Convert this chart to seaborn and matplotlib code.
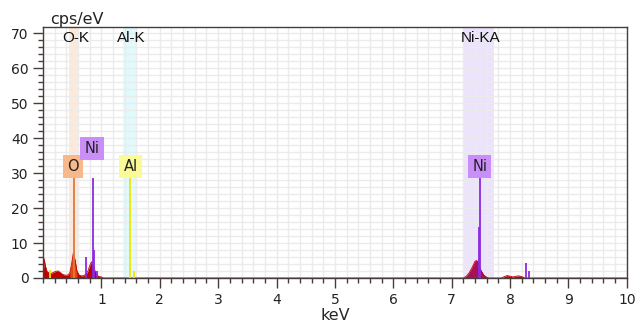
import matplotlib
matplotlib.use("Agg")
import matplotlib.pyplot as plt
import numpy as np
import pandas as pd
import seaborn as sns
from matplotlib.ticker import MultipleLocator

# Spectrum (keV, cps/eV)
spec_kev = [0.0, 0.02, 0.04, 0.07, 0.10, 0.14, 0.18, 0.22, 0.26, 0.30, 0.34, 0.38,
            0.42, 0.46, 0.49, 0.52, 0.55, 0.58, 0.62, 0.66, 0.70, 0.74, 0.77, 0.80,
            0.83, 0.86, 0.89, 0.92, 0.96, 1.00, 1.03, 7.20, 7.25, 7.30, 7.35, 7.40,
            7.43, 7.46, 7.50, 7.55, 7.60, 7.63, 7.85, 7.90, 7.95, 8.00, 8.05, 8.10,
            8.15, 8.20, 8.25, 10.0]
spec_cps = [0.0, 5.5, 3.5, 1.8, 1.5, 1.3, 1.6, 1.9, 2.0, 1.5, 1.0, 0.8,
            0.8, 1.5, 4.0, 7.2, 5.0, 2.0, 0.8, 0.6, 0.7, 1.2, 2.0, 3.5,
            4.6, 3.8, 2.0, 0.8, 0.4, 0.3, 0.0, 0.0, 0.5, 1.5, 3.0, 4.8,
            5.0, 4.0, 2.2, 0.8, 0.2, 0.0, 0.0, 0.4, 0.7, 0.5, 0.3, 0.5,
            0.6, 0.4, 0.0, 0.0]

# Element marker lines
o_kev, o_h = [0.525], [28.5]
ni_kev = [0.743, 0.851, 0.866, 0.930, 7.461, 7.478, 8.265, 8.330]
ni_h = [6.0, 28.5, 8.0, 2.1, 14.7, 28.5, 4.2, 2.1]
al_kev, al_h = [0.12, 1.486, 1.557], [2.3, 28.5, 2.1]

# Shaded regions of interest
bands = ["O-K", "Al-K", "Ni-KA"]
band_lo = [0.45, 1.37, 7.20]
band_hi = [0.60, 1.60, 7.72]
band_colors = ["#fde9dc", "#e0fafd", "#ece3fd"]

# Peak labels
peak_names = ["O", "Ni", "Al", "Ni"]
peak_kev = [0.52, 0.84, 1.50, 7.48]
peak_y = [31.9, 37.0, 31.8, 31.9]
peak_colors = ["#f7b98c", "#c98ef7", "#fafa96", "#c98ef7"]

sns.set_style("white")
plt.rcParams["font.family"] = ["DejaVu Sans"]

fig = plt.figure(figsize=(6.36, 3.24), dpi=100)
ax = fig.add_axes([0.0676, 0.142, 0.918, 0.775])

df = pd.DataFrame({"keV": spec_kev, "cps": spec_cps})
kev = df["keV"].to_numpy()
cps = df["cps"].to_numpy()

for lo, hi, c in zip(band_lo, band_hi, band_colors):
    ax.axvspan(lo, hi, color=c, zorder=0.2, lw=0)

ax.fill_between(kev, 0, cps, color="#c00000", lw=0, zorder=2)
o_mask = (kev >= 0.46) & (kev <= 0.58)
ax.fill_between(kev, 0, cps, where=o_mask, color="#e04a10", lw=0, zorder=2)
ni_mask = (kev >= 7.20) & (kev <= 7.63)
ax.fill_between(kev, 0, cps, where=ni_mask, color="#a8105a", lw=0, zorder=2)
sns.lineplot(data=df, x="keV", y="cps", ax=ax, color="#c00000", lw=0.6, zorder=2)

ax.vlines(o_kev, 0, o_h, color="#e07a3a", lw=1.3, zorder=3)
ax.vlines(ni_kev, 0, ni_h, color="#8a2be2", lw=1.3, zorder=3)
ax.vlines(al_kev, 0, al_h, color="#e8e800", lw=1.3, zorder=3)

for name, lo, hi in zip(bands, band_lo, band_hi):
    ax.text((lo + hi) / 2 + 0.03, 68.6, name, ha="center", va="center",
            fontsize=11, color="#111111", zorder=4, family=["Liberation Sans"])

for name, x, y, c in zip(peak_names, peak_kev, peak_y, peak_colors):
    ax.text(x, y, name, ha="center", va="center", fontsize=10.5, color="#222222",
            zorder=5, bbox=dict(boxstyle="square,pad=0.28", fc=c, ec="none"))

ax.set_xlim(0, 10)
ax.set_ylim(0, 71.8)
ax.xaxis.set_major_locator(MultipleLocator(1))
ax.xaxis.set_minor_locator(MultipleLocator(0.2))
ax.yaxis.set_major_locator(MultipleLocator(10))
ax.yaxis.set_minor_locator(MultipleLocator(2))
ax.set_xticks(range(1, 11))
ax.grid(True, which="both", color="#ebebeb", lw=1.0, zorder=0.5)
ax.set_axisbelow(True)

ax.tick_params(which="major", direction="out", length=7, width=1, color="#4a3c3c",
               labelsize=10, labelcolor="#222222", bottom=True, left=True)
ax.tick_params(which="minor", direction="out", length=3.5, width=1, color="#4a3c3c",
               bottom=True, left=True)
for s in ax.spines.values():
    s.set_color("#4a3c3c")
    s.set_linewidth(1)

ax.set_xlabel("keV", fontsize=11.5, labelpad=1)
ax.set_ylabel("")
ax.text(0.012, 1.0, "cps/eV", transform=ax.transAxes, ha="left", va="bottom",
        fontsize=11.5, color="#222222")

fig.savefig("out.png", dpi=100)
